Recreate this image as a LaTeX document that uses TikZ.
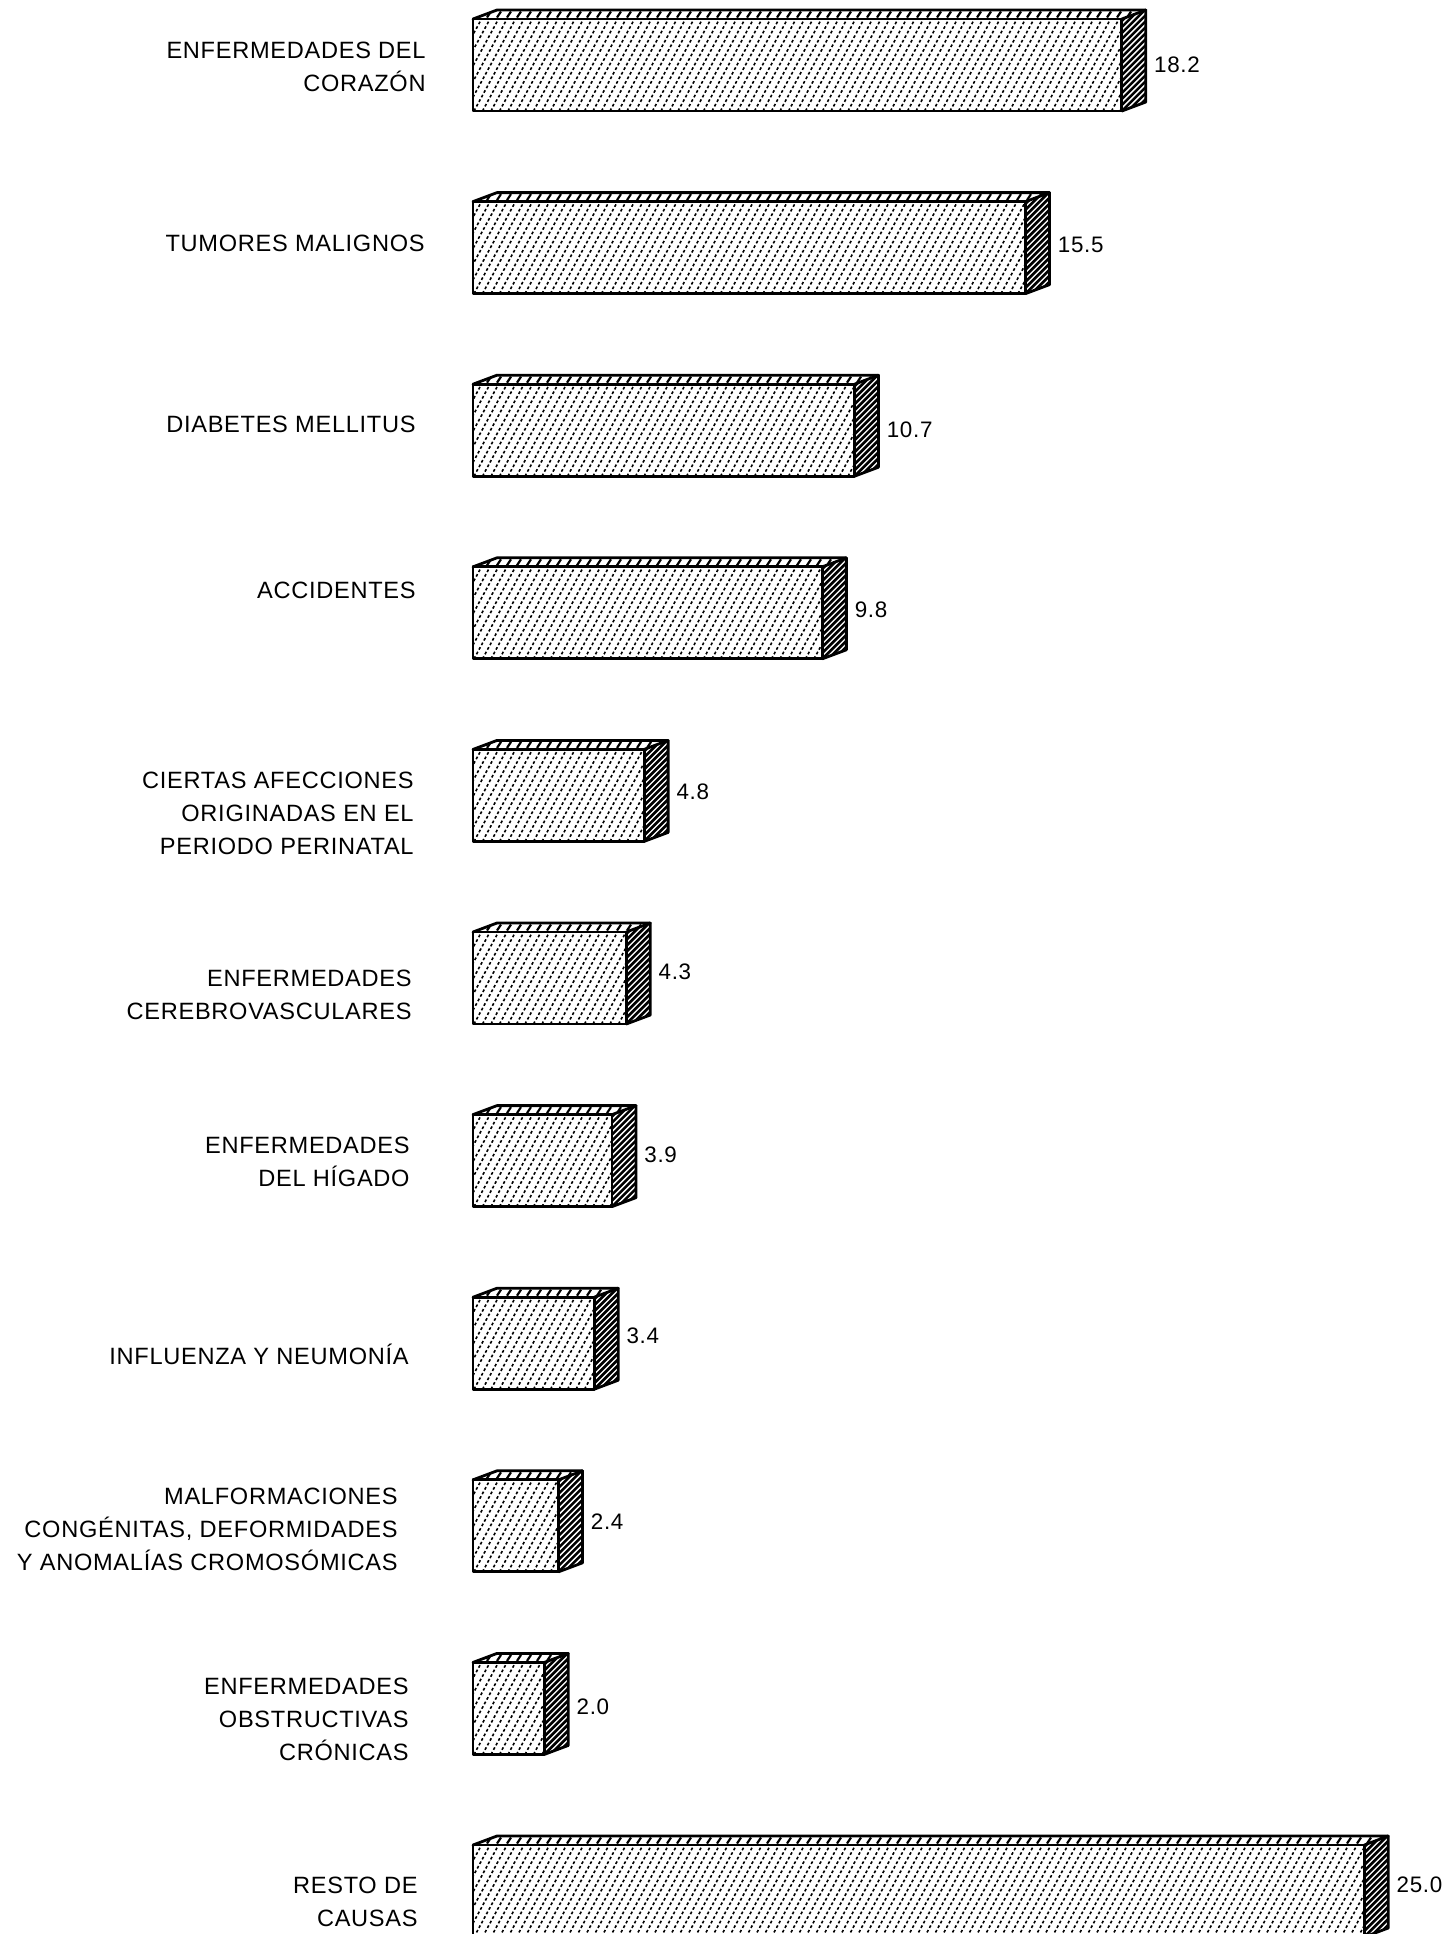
\documentclass[tikz,border=0pt]{standalone}
\usepackage{fontspec}
\setmainfont{Liberation Sans}
\newfontfamily\catfont[LetterSpace=3]{Liberation Sans}
\tikzset{
  outline/.style={line width=1.4pt, line join=round, line cap=round},
  fronthatch/.style={line width=0.8pt, dash pattern=on 1.4pt off 1.2pt},
  sidehatch/.style={line width=1.3pt},
  tophatch/.style={line width=1.1pt},
  catlabel/.style={anchor=base east, align=right, inner sep=0pt, font=\catfont\fontsize{11.8pt}{16.5pt}\selectfont},
  vallabel/.style={anchor=base west, inner sep=0pt, font=\catfont\fontsize{11.2pt}{12pt}\selectfont},
}
\newcommand\mybar[4]{% #1 name, #2 value, #3 top y, #4 label centre y
  \pgfmathsetmacro\L{473}
  \pgfmathsetmacro\R{473+35.65*#2}
  \pgfmathsetmacro\T{#3}
  \pgfmathsetmacro\B{#3+92}
  % front face hatch
  \begin{scope}
    \clip (\L,\T) rectangle (\R,\B);
    \pgfmathsetmacro\hs{\L-50}
    \pgfmathsetmacro\hn{\L-41.5}
    \foreach \u in {\hs,\hn,...,\R} \draw[fronthatch] (\u,\B) -- ++(50,-92);
  \end{scope}
  % side face hatch
  \begin{scope}
    \clip (\R,\T) -- (\R+24,\T-9) -- (\R+24,\B-9) -- (\R,\B) -- cycle;
    \pgfmathsetmacro\ss{\T-10}
    \pgfmathsetmacro\sn{\T-4}
    \pgfmathsetmacro\se{\B+30}
    \foreach \w in {\ss,\sn,...,\se} \draw[sidehatch] (\R,\w) -- ++(24,-24);
  \end{scope}
  % top face hatch
  \begin{scope}
    \clip (\L,\T) -- (\L+24,\T-9) -- (\R+24,\T-9) -- (\R,\T) -- cycle;
    \pgfmathsetmacro\ts{\L+4}
    \pgfmathsetmacro\tn{\L+14}
    \pgfmathsetmacro\te{\R+24}
    \foreach \u in {\ts,\tn,...,\te} \draw[tophatch] (\u,\T-1.5) -- ++(4,-6);
  \end{scope}
  % outlines
  \draw[outline] (\L,\T) rectangle (\R,\B);
  \draw[outline] (\L,\T) -- (\L+24,\T-9) -- (\R+24,\T-9) -- (\R+24,\B-9) -- (\R,\B);
  \draw[outline] (\R,\T) -- (\R+24,\T-9);
  \node[vallabel] (#1v) at (\R+32,#4+8) {#2};
}
\begin{document}
\begin{tikzpicture}[x=0.5pt,y=-0.5pt]
\useasboundingbox (0,0) rectangle (1454,1934);
\mybar{b1}{18.2}{19}{64.4}
\mybar{b2}{15.5}{201.6}{244.4}
\mybar{b3}{10.7}{384.2}{429.7}
\mybar{b4}{9.8}{566.8}{609.9}
\mybar{b5}{4.8}{749.4}{791}
\mybar{b6}{4.3}{932}{971.6}
\mybar{b7}{3.9}{1114.6}{1154.6}
\mybar{b8}{3.4}{1297.2}{1335.8}
\mybar{b9}{2.4}{1479.8}{1521}
\mybar{b10}{2.0}{1662.4}{1706.5}
\mybar{b11}{25.0}{1845}{1884.4}
\node[catlabel] (c1) at (426,91.7) {ENFERMEDADES DEL\\CORAZÓN};
\node[catlabel] (c2) at (425,251.9) {TUMORES MALIGNOS};
\node[catlabel] (c3) at (416,432.2) {DIABETES MELLITUS};
\node[catlabel] (c4) at (416,598.5) {ACCIDENTES};
\node[catlabel] (c5) at (414,854.5) {CIERTAS AFECCIONES\\ORIGINADAS EN EL\\PERIODO PERINATAL};
\node[catlabel] (c6) at (412,1019.1) {ENFERMEDADES\\CEREBROVASCULARES};
\node[catlabel] (c7) at (410,1186.1) {ENFERMEDADES\\DEL HÍGADO};
\node[catlabel] (c8) at (409,1364.5) {INFLUENZA Y NEUMONÍA};
\node[catlabel] (c9) at (398,1570) {MALFORMACIONES\\CONGÉNITAS, DEFORMIDADES\\Y ANOMALÍAS CROMOSÓMICAS};
\node[catlabel] (c10) at (409,1760.2) {ENFERMEDADES\\OBSTRUCTIVAS\\CRÓNICAS};
\node[catlabel] (c11) at (418,1926.2) {RESTO DE\\CAUSAS};
\end{tikzpicture}
\end{document}
